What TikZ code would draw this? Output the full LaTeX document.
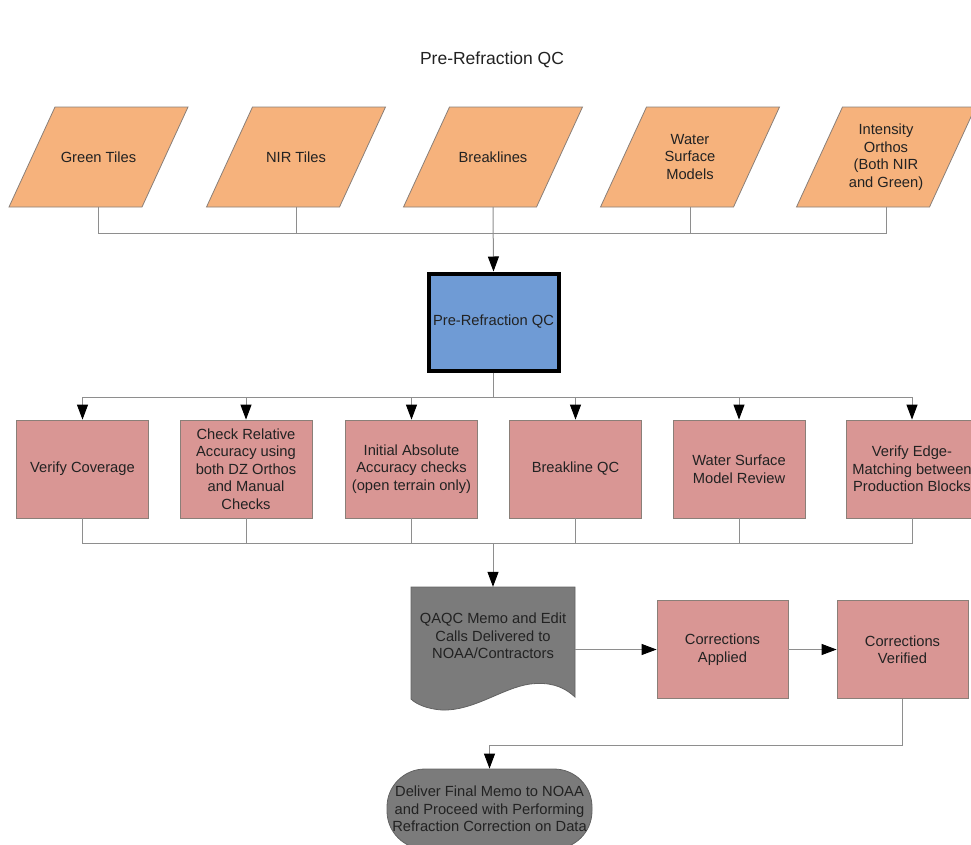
\documentclass[tikz,border=0pt]{standalone}
\usepackage{fontspec}
\setmainfont{Liberation Sans}
\usetikzlibrary{arrows.meta,calc}
\definecolor{iofill}{HTML}{F6B27C}
\definecolor{pinkfill}{HTML}{D99694}
\definecolor{bluefill}{HTML}{6F9BD5}
\definecolor{docfill}{HTML}{7B7B7B}
\definecolor{linegray}{HTML}{8E8E8E}
\definecolor{edgegray}{HTML}{8A7F78}
\definecolor{txt}{HTML}{222222}
\newcommand\ioshape[4]{%
  \filldraw[ioshapestyle] (#2-89.5,#3+50) -- (#2+43.5,#3+50) -- (#2+89.5,#3-50) -- (#2-43.5,#3-50) -- cycle;
  \node[iotext] (#1) at (#2,#3) {#4};}
\begin{document}
\begin{tikzpicture}[x=1pt,y=-1pt,
  basefont/.style={font=\fontsize{14.7}{17.5}\selectfont, text=txt, align=center},
  ioshapestyle/.style={fill=iofill, draw=edgegray, line width=0.8pt},
  iotext/.style={basefont, minimum width=133pt, minimum height=100pt, inner sep=0pt},
  procbox/.style={basefont, draw=edgegray, fill=pinkfill, line width=0.8pt, minimum width=132pt, minimum height=98pt, inner sep=0pt},
  qcbox/.style={basefont, draw=black, fill=bluefill, line width=4pt, minimum width=130pt, minimum height=97pt, inner sep=0pt},
  doctext/.style={basefont, minimum width=164pt, minimum height=98pt, inner sep=0pt},
  termbox/.style={basefont, draw=docfill!80!black, fill=docfill, rounded corners=38pt, line width=0.8pt, minimum width=205pt, minimum height=80pt, inner sep=0pt},
  conn/.style={draw=linegray, line width=1pt},
  arr/.style={conn, -{Triangle[length=15pt,width=11pt,fill=black,color=black]}},
]
\useasboundingbox (0,0) rectangle (971,844);

\node[font=\fontsize{17.5}{21}\selectfont, text=txt] (title) at (492,60) {Pre-Refraction QC};

\ioshape{green}{98.5}{157}{Green Tiles}
\ioshape{nir}{296}{157}{NIR Tiles}
\ioshape{brk}{493}{157}{Breaklines}
\ioshape{wsm}{690}{157}{Water\\Surface\\Models}
\ioshape{int}{886}{157}{Intensity\\Orthos\\(Both NIR\\and Green)}

\node[qcbox] (qc) at (493.5,322) {Pre-Refraction QC};

\node[procbox] (vc) at (82.5,469) {Verify Coverage};
\node[procbox] (cr) at (246,469) {Check Relative\\Accuracy using\\both DZ Orthos\\and Manual\\Checks};
\node[procbox] (ia) at (411.5,469) {Initial Absolute\\Accuracy checks\\(open terrain only)};
\node[procbox] (bq) at (575.5,469) {Breakline QC};
\node[procbox] (wr) at (739,469) {Water Surface\\Model Review};
\node[procbox] (ve) at (912,469) {Verify Edge-\\Matching between\\Production Blocks};

% document shape
\filldraw[fill=docfill, draw=docfill!80!black, line width=0.8pt]
  (411,587) -- (575,587) -- (575,697)
  .. controls (562,685) and (548,682) .. (530,684)
  .. controls (502,688) and (474,711) .. (442,710)
  .. controls (427,709) and (416,704) .. (411,699) -- cycle;
\node[doctext] (doc) at (493,636) {QAQC Memo and Edit\\Calls Delivered to\\NOAA/Contractors};

\node[procbox, minimum width=131pt] (ca) at (722.5,649.5) {Corrections\\Applied};
\node[procbox, minimum width=131pt] (cv) at (902.5,649.5) {Corrections\\Verified};

\node[termbox] (term) at (489.5,809) {Deliver Final Memo to NOAA\\and Proceed with Performing\\Refraction Correction on Data};

% junction points
\coordinate (jt) at (493,233);
\coordinate (jm) at (493.5,397);
\coordinate (jb) at (493,543);
\coordinate (jf) at (489.5,745);

% top connectors
\draw[conn] (green.south) |- (jt);
\draw[conn] (nir.south) |- (jt);
\draw[conn] (wsm.south) |- (jt);
\draw[conn] (int.south) |- (jt);
\draw[arr] (brk.south) -- (qc.north);

% middle connectors
\draw[conn] (qc.south) -- (jm);
\draw[arr] (jm) -| (vc.north);
\draw[arr] (jm) -| (cr.north);
\draw[arr] (jm) -| (ia.north);
\draw[arr] (jm) -| (bq.north);
\draw[arr] (jm) -| (wr.north);
\draw[arr] (jm) -| (ve.north);

% bottom connectors
\draw[conn] (vc.south) |- (jb);
\draw[conn] (cr.south) |- (jb);
\draw[conn] (ia.south) |- (jb);
\draw[conn] (bq.south) |- (jb);
\draw[conn] (wr.south) |- (jb);
\draw[conn] (ve.south) |- (jb);
\draw[arr] (jb) -- (doc.north);

\draw[arr] (doc.east |- ca.west) -- (ca.west);
\draw[arr] (ca.east) -- (cv.west);
\draw[arr] (cv.south) |- (jf) -- (term.north);
\end{tikzpicture}
\end{document}
